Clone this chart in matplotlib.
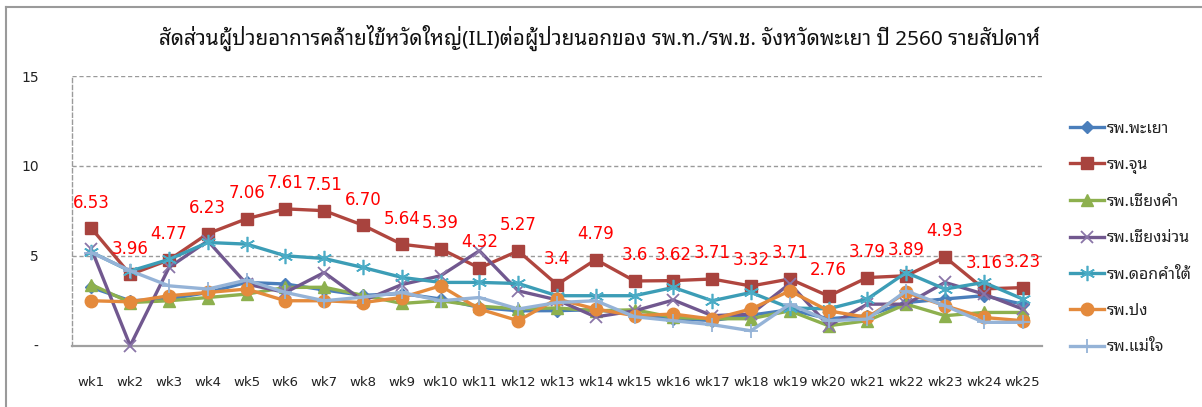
import matplotlib
matplotlib.use('Agg')
import matplotlib.pyplot as plt
from matplotlib.lines import Line2D

weeks = ['wk%d' % i for i in range(1, 26)]

series_names = ['รพ.พะเยา', 'รพ.จุน', 'รพ.เชียงคำ', 'รพ.เชียงม่วน',
                'รพ.ดอกคำใต้', 'รพ.ปง', 'รพ.แม่ใจ']

phayao = [3.24, 2.5, 2.6, 2.96, 3.52, 3.43, 3.1, 2.8, 2.9, 2.6, 2.13, 1.94, 1.95,
          2.0, 1.75, 1.5, 1.4, 1.7, 2.0, 1.5, 1.67, 2.4, 2.6, 2.78, 2.31]
chun = [6.53, 3.96, 4.77, 6.23, 7.06, 7.61, 7.51, 6.70, 5.64, 5.39, 4.32, 5.27, 3.4,
        4.79, 3.6, 3.62, 3.71, 3.32, 3.71, 2.76, 3.79, 3.89, 4.93, 3.16, 3.23]
chun_labels = ['6.53', '3.96', '4.77', '6.23', '7.06', '7.61', '7.51', '6.70', '5.64',
               '5.39', '4.32', '5.27', '3.4', '4.79', '3.6', '3.62', '3.71', '3.32',
               '3.71', '2.76', '3.79', '3.89', '4.93', '3.16', '3.23']
chiangkham = [3.4, 2.4, 2.5, 2.68, 2.87, 3.24, 3.25, 2.8, 2.35, 2.5, 2.2, 2.05, 2.1,
              1.94, 2.0, 1.57, 1.5, 1.5, 1.94, 1.11, 1.39, 2.31, 1.67, 1.85, 1.85]
chiangmuan = [5.37, 0.0, 4.35, 5.83, 3.43, 2.96, 4.07, 2.5, 3.4, 3.89, 5.28, 3.05, 2.55,
              1.6, 1.94, 2.54, 1.67, 1.76, 3.45, 1.11, 2.31, 2.31, 3.52, 2.87, 2.04]
dokkhamtai = [5.2, 4.15, 4.8, 5.74, 5.65, 5.0, 4.85, 4.35, 3.8, 3.52, 3.52, 3.46, 2.78,
              2.78, 2.78, 3.24, 2.5, 2.96, 2.1, 2.05, 2.6, 4.07, 3.15, 3.52, 2.6]
pong = [2.5, 2.44, 2.78, 2.96, 3.15, 2.5, 2.5, 2.4, 2.68, 3.33, 2.04, 1.39, 2.6, 2.04,
        1.67, 1.76, 1.48, 2.04, 3.05, 1.94, 1.57, 2.96, 2.22, 1.57, 1.39]
maechai = [5.18, 4.17, 3.33, 3.15, 3.65, 2.96, 2.5, 2.7, 2.96, 2.5, 2.68, 2.04, 2.4,
           2.5, 1.61, 1.39, 1.17, 0.83, 2.31, 1.39, 1.48, 3.05, 2.22, 1.3, 1.3]

y_ticks = [0, 5, 10, 15]
y_tick_labels = ['-', '5', '10', '15']

title = 'สัดส่วนผู้ป่วยอาการคล้ายไข้หวัดใหญ่(ILI)ต่อผู้ป่วยนอกของ รพ.ท./รพ.ช. จังหวัดพะเยา ปี 2560 รายสัปดาห์'

THAI = ['Noto Sans Thai Looped', 'DejaVu Sans']
plt.rcParams['font.family'] = THAI

W, H = 1202, 407
fig = plt.figure(figsize=(W / 100, H / 100), dpi=100)
ax = fig.add_axes([72 / W, 1 - 345.7 / H, (1042 - 72) / W, (345.7 - 76) / H])

styles = [
    dict(color='#4A7EBB', marker='D', ms=6.5, mfc='#4A7EBB', mec='#4A7EBB'),
    dict(color='#B0463F', marker='s', ms=9, mfc='#A8433E', mec='#A8433E'),
    dict(color='#8DB04E', marker='^', ms=8.5, mfc='#8DB04E', mec='#8DB04E'),
    dict(color='#71588F', marker='x', ms=9, mew=1.3, mec='#8A75A8'),
    dict(color='#3C9DB6', marker=(6, 2, 0), ms=11, mew=1.2, mec='#4BACC6'),
    dict(color='#E48A3C', marker='o', ms=9, mfc='#E48A3C', mec='#E48A3C'),
    dict(color='#95B3D7', marker='+', ms=10, mew=1.3, mec='#95B3D7'),
]
data = [phayao, chun, chiangkham, chiangmuan, dokkhamtai, pong, maechai]
x = list(range(len(weeks)))
handles = []
for name, vals, st in zip(series_names, data, styles):
    h, = ax.plot(x, vals, lw=2.4, label=name, zorder=3, clip_on=False, **st)
    handles.append(h)

for xi, v, lab in zip(x, chun, chun_labels):
    ax.annotate(lab, (xi, v), xytext=(0, 18.5), textcoords='offset points',
                ha='center', va='center', color='#FF0000', fontsize=12,
                family=['DejaVu Sans'], zorder=5)

ax.set_xlim(-0.5, len(weeks) - 0.5)
ax.set_ylim(0, 15)
ax.set_xticks(x)
ax.set_xticklabels(weeks, fontsize=9.5, family=['DejaVu Sans'], color='#222222')
ax.set_yticks(y_ticks)
ax.set_yticklabels(y_tick_labels, fontsize=10, family=['DejaVu Sans'], color='#222222')
ax.tick_params(axis='both', length=0)
ax.tick_params(axis='x', pad=22)
ax.tick_params(axis='y', pad=24)
for yv in [5, 10, 15]:
    ax.axhline(yv, color='#9A9A9A', lw=1.0, ls=(0, (3, 2)), zorder=1)
ax.spines['top'].set_visible(False)
ax.spines['right'].set_visible(False)
ax.spines['left'].set_color('#9A9A9A')
ax.spines['left'].set_linestyle((0, (3, 2)))
ax.spines['left'].set_linewidth(1.0)
ax.spines['bottom'].set_color('#A0A0A0')
ax.spines['bottom'].set_linewidth(1.6)

fig.text(600 / W, 1 - 38 / H, title, ha='center', va='center', fontsize=14.9,
         color='#111111')

leg = fig.legend(handles=handles, loc='upper left',
                 bbox_to_anchor=(1064 / W, 1 - 114 / H), frameon=False,
                 fontsize=11.5, handlelength=2.1, handletextpad=0.15,
                 labelspacing=1.27, borderaxespad=0)
for t in leg.get_texts():
    t.set_fontweight('bold')
    t.set_color('#222222')

fig.add_artist(Line2D([6 / W, 6 / W], [0, 1 - 7 / H], transform=fig.transFigure,
                      color='#9A9A9A', lw=1.5))
fig.add_artist(Line2D([6 / W, 1], [1 - 7 / H, 1 - 7 / H], transform=fig.transFigure,
                      color='#9A9A9A', lw=1.5))

fig.savefig('out.png', dpi=100)
